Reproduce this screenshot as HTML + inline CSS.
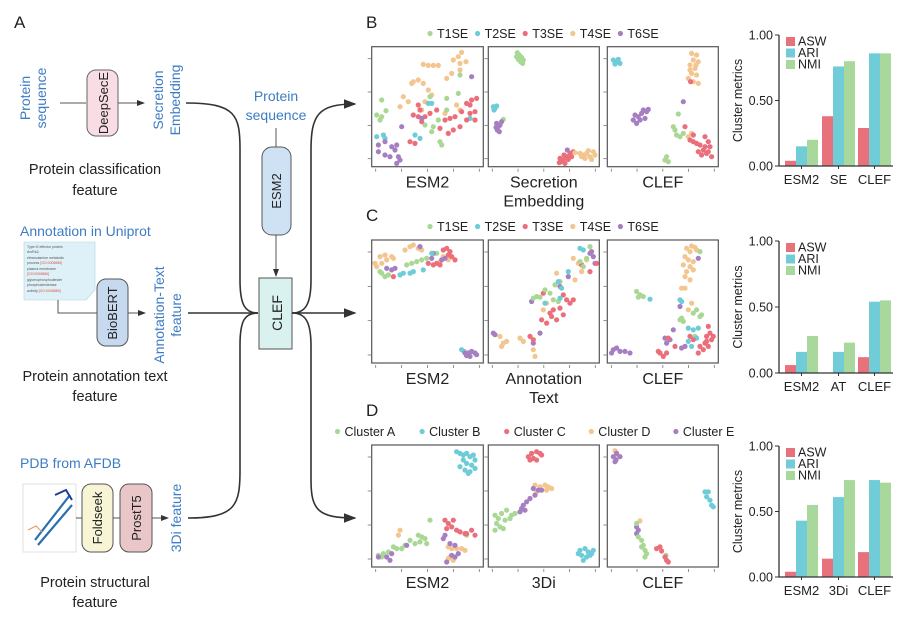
<!DOCTYPE html>
<html><head><meta charset="utf-8"><style>
html,body{margin:0;padding:0;background:#fff}
svg{display:block;font-family:"Liberation Sans",Arial,sans-serif}
</style></head><body>
<svg id="fig" width="910" height="621" viewBox="0 0 910 621" xmlns="http://www.w3.org/2000/svg">
<defs><marker id="ah" markerWidth="8" markerHeight="8" refX="7" refY="4" orient="auto"><path d="M0,1 L8,4 L0,7 Z" fill="#333"/></marker></defs>
<g fill="none" stroke="#333" stroke-width="1.6">
<text x="14" y="28" font-size="17" fill="#222" stroke="none">A</text>
<g stroke="none" fill="#3d7cc4" font-size="14">
<text transform="translate(30,98) rotate(-90)" text-anchor="middle">Protein</text>
<text transform="translate(46,98) rotate(-90)" text-anchor="middle">sequence</text></g>
<line x1="60" y1="103" x2="86" y2="103" stroke="#555" stroke-width="1"/>
<rect x="87" y="70" width="31" height="66" rx="9" fill="#f9dde4" stroke="#666" stroke-width="1"/>
<text transform="translate(108,103) rotate(-90)" text-anchor="middle" font-size="13" fill="#222" stroke="none">DeepSecE</text>
<line x1="118" y1="103" x2="144" y2="103" stroke="#555" stroke-width="1" marker-end="url(#ah)"/>
<g stroke="none" fill="#3d7cc4" font-size="14">
<text transform="translate(163,100) rotate(-90)" text-anchor="middle">Secretion</text>
<text transform="translate(180,100) rotate(-90)" text-anchor="middle">Embedding</text></g>
<text x="95" y="174" font-size="14.5" fill="#222" stroke="none" text-anchor="middle">Protein classification</text>
<text x="95" y="195" font-size="14.5" fill="#222" stroke="none" text-anchor="middle">feature</text>
<path d="M186,103 C236,103 240,115 240,150 L240,280 C240,305 245,313 258,313"/>
<path d="M188,518 C236,518 240,505 240,470 L240,345 C240,320 245,313 258,313"/>
<line x1="188" y1="313" x2="258" y2="313"/>
<text x="20" y="236" font-size="14" fill="#3d7cc4" stroke="none">Annotation in Uniprot</text>
<path d="M24,242 L95,242 L95,290 L86,300 L24,300 Z" fill="#dff1f8" stroke="#b5d3e2" stroke-width="0.6"/>
<g stroke="none" font-size="3.5" fill="#555"><text x="27" y="248">Type III effector protein</text><text x="27" y="253">AvrRs2;</text><text x="27" y="259">ethanolamine metabolic</text><text x="27" y="264">process <tspan fill="#e05040">[GO:0006580]</tspan></text><text x="27" y="270">plasma membrane</text><text x="27" y="275" fill="#e05040">[GO:0005886]</text><text x="27" y="281">glycerophosphodiester</text><text x="27" y="286">phosphodiesterase</text><text x="27" y="292">activity <tspan fill="#e05040">[GO:0008889]</tspan></text></g>
<path d="M58,300 L58,313 L97,313" stroke="#555" stroke-width="1"/>
<rect x="97" y="279" width="31" height="67" rx="9" fill="#c6d9ef" stroke="#555" stroke-width="1"/>
<text transform="translate(117,313) rotate(-90)" text-anchor="middle" font-size="13" fill="#222" stroke="none">BioBERT</text>
<line x1="128" y1="313" x2="145" y2="313" stroke="#555" stroke-width="1" marker-end="url(#ah)"/>
<g stroke="none" fill="#3d7cc4" font-size="14">
<text transform="translate(164,315) rotate(-90)" text-anchor="middle">Annotation-Text</text>
<text transform="translate(181,315) rotate(-90)" text-anchor="middle">feature</text></g>
<text x="95" y="381" font-size="14.5" fill="#222" stroke="none" text-anchor="middle">Protein annotation text</text>
<text x="95" y="401" font-size="14.5" fill="#222" stroke="none" text-anchor="middle">feature</text>
<text x="20" y="468" font-size="14" fill="#3d7cc4" stroke="none">PDB from AFDB</text>
<rect x="23" y="484" width="53" height="68" fill="#fff" stroke="#ccc" stroke-width="0.6"/>
<path d="M35,540 L70,495 M38,545 L72,505" stroke="#2a6fb0" stroke-width="2.2"/>
<path d="M55,495 L66,490 L72,500" stroke="#1a3f9a" stroke-width="2"/>
<path d="M28,530 L36,526 L42,532" stroke="#e0a070" stroke-width="1.2"/>
<line x1="76" y1="518" x2="82" y2="518" stroke="#555" stroke-width="1"/>
<rect x="82" y="484" width="31" height="68" rx="9" fill="#f7f5d6" stroke="#555" stroke-width="1"/>
<text transform="translate(102,518) rotate(-90)" text-anchor="middle" font-size="13" fill="#222" stroke="none">Foldseek</text>
<line x1="113" y1="518" x2="120" y2="518" stroke="#555" stroke-width="1"/>
<rect x="120" y="484" width="32" height="68" rx="9" fill="#e9c6c7" stroke="#555" stroke-width="1"/>
<text transform="translate(141,518) rotate(-90)" text-anchor="middle" font-size="13" fill="#222" stroke="none">ProstT5</text>
<line x1="152" y1="518" x2="168" y2="518" stroke="#555" stroke-width="1" marker-end="url(#ah)"/>
<text transform="translate(181,518) rotate(-90)" text-anchor="middle" font-size="14" fill="#3d7cc4" stroke="none">3Di feature</text>
<text x="95" y="587" font-size="14.5" fill="#222" stroke="none" text-anchor="middle">Protein structural</text>
<text x="95" y="607" font-size="14.5" fill="#222" stroke="none" text-anchor="middle">feature</text>
<text x="276" y="101" font-size="14" fill="#3d7cc4" stroke="none" text-anchor="middle">Protein</text>
<text x="276" y="120" font-size="14" fill="#3d7cc4" stroke="none" text-anchor="middle">sequence</text>
<line x1="276" y1="128" x2="276" y2="147" stroke="#555" stroke-width="1"/>
<rect x="262" y="147" width="29" height="88" rx="10" fill="#cfe2f3" stroke="#555" stroke-width="1"/>
<text transform="translate(281,191) rotate(-90)" text-anchor="middle" font-size="13" fill="#222" stroke="none">ESM2</text>
<line x1="276" y1="235" x2="276" y2="276" stroke="#555" stroke-width="1" marker-end="url(#ah)"/>
<rect x="259" y="278" width="33" height="71" fill="#d9f1ef" stroke="#555" stroke-width="1"/>
<text transform="translate(282,313) rotate(-90)" text-anchor="middle" font-size="14" fill="#222" stroke="none">CLEF</text>
<path d="M292,313 C305,313 311,305 311,280 L311,150 C311,115 318,104 355,104" marker-end="url(#ah)"/>
<line x1="292" y1="313" x2="355" y2="313" marker-end="url(#ah)"/>
<path d="M292,313 C305,313 311,321 311,346 L311,480 C311,510 318,518 355,518" marker-end="url(#ah)"/>
</g>
<g id="charts"></g>
</svg>
<script>
// ---- scatter data: [x, y, classIndex] in embedding units ----
const bEsm2 = [[305,97,3],[295,110,3],[318,125,3],[280,120,3],[300,130,3],[190,133,3],[205,136,3],[220,136,3],[235,136,3],[160,185,3],[175,180,3],[190,190,3],[155,190,3],[260,175,3],[275,160,3],[300,150,3],[205,210,3],[215,225,3],[195,245,3],[130,230,3],[120,260,3],[145,245,3],[290,255,3],[300,270,3],[255,280,3],[185,270,3],
[65,240,0],[50,285,0],[65,290,0],[78,272,0],[60,300,0],[210,230,0],[260,235,0],[295,220,0],[235,300,0],[220,320,0],[260,270,0],[240,365,0],[245,375,0],[300,165,0],[215,335,0],[195,315,0],
[50,350,1],[70,345,1],[165,345,1],[180,355,1],[205,250,1],[215,250,1],[330,295,1],[75,355,1],
[160,285,2],[175,290,2],[180,270,2],[195,290,2],[185,305,2],[150,365,2],[165,370,2],[230,270,2],[255,300,2],[270,295,2],[285,290,2],[305,275,2],[320,250,2],[335,240,2],[345,275,2],[330,280,2],[320,300,2],[300,320,2],[280,330,2],[265,340,2],[240,325,2],[345,300,2],[330,255,2],[350,235,2],[175,255,2],[210,280,2],
[55,375,4],[75,365,4],[95,380,4],[110,375,4],[105,390,4],[75,405,4],[90,410,4],[115,410,4],[120,420,4],[110,430,4],[55,395,4],[125,320,4],[335,170,4],[185,295,4]];
const bSecretion = [[472,98,0],[478,105,0],[485,112,0],[475,118,0],[482,125,0],[490,120,0],[470,110,0],[488,130,0],[430,298,0],
[400,260,1],[405,265,1],[410,258,1],[402,270,1],
[410,310,4],[415,320,4],[412,330,4],[420,315,4],[418,335,4],[425,305,4],[408,322,4],[622,390,4],
[600,415,2],[610,420,2],[620,410,2],[630,400,2],[605,425,2],[615,430,2],[625,418,2],[640,395,2],[612,405,2],[635,410,2],[598,428,2],
[670,405,3],[680,400,3],[690,410,3],[700,395,3],[675,415,3],[695,418,3],[685,392,3],[665,410,3],[705,405,3],[660,400,3],[645,398,3]];
const bClef = [[760,120,1],[770,125,1],[780,130,1],[765,132,1],[775,118,1],
[995,100,3],[1010,105,3],[1000,120,3],[1015,125,3],[990,135,3],[1005,145,3],[995,160,3],[1010,165,3],[985,175,3],[1000,185,3],[1015,190,3],[990,150,3],[1008,135,3],[995,340,3],[985,350,3],
[992,185,2],
[970,245,4],[825,285,4],[835,290,4],[850,270,4],[860,275,4],[840,300,4],[820,300,4],[830,310,4],[845,280,4],[865,268,4],[855,295,4],
[955,282,0],[940,320,0],[945,330,0],[960,350,0],[950,345,0],[970,340,0],[920,410,0],[925,425,0],[915,420,0],
[975,320,2],[990,360,2],[1000,365,2],[1010,370,2],[1020,375,2],[1035,350,2],[1045,365,2],[1050,380,2],[1030,390,2],[1040,400,2],[1015,395,2],[1025,405,2],[1055,410,2],[1045,395,2],[1000,345,2],[1035,380,2]];
const cEsm2 = [[50,170,3],[65,160,3],[80,150,3],[95,140,3],[60,140,3],[75,135,3],[100,145,3],[135,120,3],[150,110,3],[160,105,3],[175,115,3],[185,120,3],[250,140,3],[265,150,3],[240,155,3],[45,160,3],
[65,190,0],[75,200,0],[85,195,0],[140,165,0],[155,160,0],[170,155,0],[185,150,0],[200,145,0],[230,130,0],[60,185,0],
[80,175,4],[95,180,4],[105,175,4],[180,110,4],[215,145,4],[245,150,4],[255,145,4],[220,130,4],
[120,195,1],[130,190,1],[150,190,1],[160,185,1],[190,180,1],[215,130,1],[305,420,1],[312,425,1],
[205,160,2],[220,165,2],[230,160,2],[250,120,2],[260,115,2],[270,125,2],[275,140,2],[285,150,2],[265,135,2],[240,165,2],[100,200,2],
[315,430,4],[325,430,4],[335,425,4],[345,430,4],[330,440,4],[350,435,4],[320,438,4]];
const cAnnotation = [[400,370,4],[405,375,4],[695,125,4],[700,140,4],[705,160,4],[690,130,4],[515,275,4],[540,370,4],[625,200,4],[520,400,4],[600,230,4],
[420,380,3],[430,400,3],[440,395,3],[425,410,3],[480,385,3],[490,395,3],[520,420,3],[525,440,3],[550,300,3],[560,280,3],[590,190,3],[640,145,3],[655,160,3],[645,210,3],[680,150,3],[665,185,3],
[510,380,2],[520,390,2],[570,310,2],[575,320,2],[580,300,2],[590,330,2],[600,295,2],[610,315,2],[560,340,2],[545,330,2],[620,270,2],[630,280,2],[640,270,2],[610,255,2],[665,165,2],[690,185,2],[710,160,2],[550,250,2],
[520,265,0],[530,260,0],[540,262,0],[555,240,0],[570,250,0],[585,225,0],[600,215,0],[580,270,0],[595,275,0],[660,155,0],[670,170,0],[680,145,0],[690,110,0],
[595,215,1],[605,235,1],[625,185,1],[600,265,1],[660,115,1],[670,120,1],[555,280,1]];
const cClef = [[980,115,3],[995,108,3],[1005,112,3],[1010,120,3],[990,125,3],[975,140,3],[985,150,3],[1000,155,3],[970,165,3],[990,170,3],[1000,180,3],[980,185,3],[975,200,3],[990,210,3],[965,235,3],[975,235,3],[995,280,3],[985,300,3],
[1020,125,0],[830,245,0],[840,255,0],[850,260,0],[835,262,0],[965,325,0],[970,335,0],[960,330,0],[1000,310,0],[1010,300,0],[1020,320,0],[1005,380,0],[1025,315,0],
[1015,145,4],[960,290,4],[940,360,4],[915,385,4],[930,390,4],[920,400,4],[965,415,4],[975,410,4],[760,420,4],[770,415,4],[780,425,4],[795,425,4],[810,430,4],[755,430,4],
[960,270,1],[965,275,1],[870,268,1],[985,355,1],[1000,360,1],[1015,355,1],[985,395,1],[995,410,1],[1010,385,1],
[1045,350,2],[1050,370,2],[1040,380,2],[1055,390,2],[1035,400,2],[1045,410,2],[1020,410,2],[1030,420,2],[1015,430,2],[1000,390,2],[945,410,2],[925,385,2],[900,430,2],[910,440,2],[920,430,2],[895,425,2],[1060,380,2],[1040,395,2],[990,380,2]];
const dEsm2 = [[290,95,1],[300,100,1],[310,105,1],[320,100,1],[330,110,1],[340,105,1],[345,120,1],[310,120,1],[320,130,1],[335,135,1],[300,140,1],[315,150,1],[330,155,1],[345,145,1],[325,160,1],
[210,300,0],[175,345,0],[185,350,0],[195,355,0],[200,370,0],[180,365,0],[165,370,0],[150,360,0],[135,375,0],[125,385,0],[110,385,0],[100,380,0],[85,395,0],[70,400,0],[55,405,0],[65,410,0],[320,345,0],
[120,330,3],[115,345,3],[265,380,3],[275,385,3],[290,385,3],[305,385,3],[315,390,3],[270,410,3],[280,420,3],[265,415,3],
[140,375,4],[95,400,4],[80,410,4],[90,420,4],[55,410,4],[250,355,4],[255,345,4],[270,370,4],[285,375,4],[295,400,4],[285,410,4],[260,425,4],[275,405,4],
[255,300,2],[265,310,2],[280,300,2],[260,325,2],[275,320,2],[290,330,2],[300,335,2],[320,340,2],[335,330,2],[345,345,2],[315,340,2]];
const d3di = [[505,110,2],[515,100,2],[530,95,2],[540,100,2],[545,105,2],[520,115,2],[510,120,2],[530,120,2],
[525,195,3],[540,200,3],[555,195,3],[565,200,3],[575,205,3],[530,215,3],[560,210,3],
[520,205,4],[535,210,4],[525,225,4],[510,235,4],[500,245,4],[490,255,4],[485,265,4],[480,275,4],[495,270,4],[545,210,4],
[440,270,0],[425,280,0],[405,285,0],[415,295,0],[435,300,0],[410,310,0],[420,320,0],[405,330,0],[430,325,0],[455,285,0],[465,280,0],[450,295,0],
[660,390,1],[675,385,1],[685,395,1],[695,400,1],[665,405,1],[680,410,1],[670,420,1],[700,390,1],[655,400,1],[690,405,1]];
const dClef = [[765,92,3],[775,108,3],[840,302,3],
[760,110,4],[768,120,4],[780,110,4],[765,125,4],[770,100,4],[830,320,4],[835,330,4],[830,340,4],
[1035,215,1],[1045,215,1],[1040,230,1],[1050,240,1],[1055,255,1],[1060,260,1],
[830,310,0],[835,350,0],[845,360,0],[850,375,0],[855,390,0],[860,400,0],[855,410,0],[845,380,0],[918,405,0],
[890,385,2],[900,380,2],[905,392,2],[915,410,2],[920,420,2],[925,425,2]];
const typeLegend = ["T1SE","T2SE","T3SE","T4SE","T6SE"];
const clusterLegend = ["Cluster A","Cluster B","Cluster C","Cluster D","Cluster E"];
// ---- bar data ----
const barCategoriesB = ["ESM2","SE","CLEF"];
const barCategoriesC = ["ESM2","AT","CLEF"];
const barCategoriesD = ["ESM2","3Di","CLEF"];
const metrics = ["ASW","ARI","NMI"];
const aswB = [0.04,0.38,0.29], ariB = [0.15,0.76,0.86], nmiB = [0.20,0.80,0.86];
const aswC = [0.06,0.00,0.12], ariC = [0.16,0.16,0.54], nmiC = [0.28,0.23,0.55];
const aswD = [0.04,0.14,0.19], ariD = [0.43,0.61,0.74], nmiD = [0.55,0.74,0.72];
const yTicks = [0, 0.5, 1];
const yTickLabels = ["0.00","0.50","1.00"];

const COLORS = ["#a9d895","#6dccd8","#ea6f7b","#f3c58f","#a67fc2"];
const BAR_COLORS = ["#e8727c","#70ccd6","#a8d89b"];
const NS = "http://www.w3.org/2000/svg";
const root = document.getElementById("charts");
function mk(tag, attrs, parent, txt){const e=document.createElementNS(NS,tag);for(const k in attrs)e.setAttribute(k,attrs[k]);if(txt!==undefined)e.textContent=txt;(parent||root).appendChild(e);return e;}

const rows = [
 {label:"B", ly:28, legY:38, top:46.7, bot:166.7, yDom:[80,440], legend:typeLegend,
  panels:[{name:"esm2",data:bEsm2,xDom:[35,370],l:371.7,r:483.3,t:["ESM2"]},{name:"secretion",data:bSecretion,xDom:[385,718],l:488.3,r:599.3,t:["Secretion","Embedding"]},{name:"clef",data:bClef,xDom:[742,1075],l:607.3,r:718.3,t:["CLEF"]}]},
 {label:"C", ly:221, legY:231, top:240, bot:363, yDom:[90,460], legend:typeLegend,
  panels:[{name:"esm2",data:cEsm2,xDom:[35,370],l:371.7,r:483.3,t:["ESM2"]},{name:"annotation",data:cAnnotation,xDom:[385,718],l:488.3,r:599.3,t:["Annotation","Text"]},{name:"clef",data:cClef,xDom:[742,1075],l:607.3,r:718.3,t:["CLEF"]}]},
 {label:"D", ly:416, legY:436, top:445, bot:567, yDom:[75,440], legend:clusterLegend,
  panels:[{name:"esm2",data:dEsm2,xDom:[35,370],l:371.7,r:483.3,t:["ESM2"]},{name:"3di",data:d3di,xDom:[385,718],l:488.3,r:599.3,t:["3Di"]},{name:"clef",data:dClef,xDom:[742,1075],l:607.3,r:718.3,t:["CLEF"]}]}
];

rows.forEach((row, ri) => {
  const lab = mk("text",{x:366,y:row.ly,"font-size":17,fill:"#222"},root,row.label);
  
  
  const lg = mk("g",{});
  
  
  const widths = row.legend.map(s => s.length*7.4 + 18);
  const total = widths.reduce((a,b)=>a+b,0);
  let lx = 545 - total/2;
  row.legend.forEach((s, i) => {
    const e = mk("g",{},lg);
    
    
    mk("circle",{cx:lx+4,cy:row.legY-4.5,r:2.6,fill:COLORS[i]},e);
    mk("text",{x:lx+11,y:row.legY,"font-size":12.5,fill:"#222"},e,s);
    lx += widths[i];
  });
  row.panels.forEach(p => {
    const g = mk("g",{});
    
    
    const sx = v => p.l + (v - p.xDom[0])/(p.xDom[1]-p.xDom[0])*(p.r-p.l);
    const sy = v => row.top + (v - row.yDom[0])/(row.yDom[1]-row.yDom[0])*(row.bot-row.top);
    p.data.forEach(d => {
      const c = mk("circle",{cx:sx(d[0]).toFixed(1),cy:sy(d[1]).toFixed(1),r:2.6,fill:COLORS[d[2]]},g);
      
      
    });
    const fr = mk("rect",{x:p.l,y:row.top,width:p.r-p.l,height:row.bot-row.top,fill:"none",stroke:"#555","stroke-width":1.2},g);
    
    
    for (let k=0;k<4;k++){ const yy=row.top+12+k*(row.bot-row.top-20)/3; mk("line",{x1:p.l-4,x2:p.l,y1:yy,y2:yy,stroke:"#777","stroke-width":0.8},g); }
    for (let k=0;k<5;k++){ const xx=p.l+4+k*(p.r-p.l-8)/4; mk("line",{x1:xx,x2:xx,y1:row.bot+2,y2:row.bot+5,stroke:"#777","stroke-width":0.8},g); }
    p.t.forEach((s, i) => {
      const t = mk("text",{x:(p.l+p.r)/2,y:row.bot+21+i*19,"font-size":16,fill:"#222","text-anchor":"middle"},g,s);
      
      
    });
  });
});

const bars = [
 {id:"b", cats:barCategoriesB, vals:[aswB,ariB,nmiB], y1:35, y0:166},
 {id:"c", cats:barCategoriesC, vals:[aswC,ariC,nmiC], y1:241, y0:373},
 {id:"d", cats:barCategoriesD, vals:[aswD,ariD,nmiD], y1:446, y0:577}
];
const axX = 779, groupX = [785, 822, 858], bw = 11;
bars.forEach(b => {
  const g = mk("g",{});
  
  
  const yS = v => b.y0 - v*(b.y0-b.y1);
  b.cats.forEach((c, ci) => {
    b.vals.forEach((series, mi) => {
      const v = series[ci];
      const r = mk("rect",{x:groupX[ci]+mi*bw,y:yS(v),width:bw,height:Math.max(0,b.y0-yS(v)),fill:BAR_COLORS[mi]},g);
      
      
    });
    const t = mk("text",{x:groupX[ci]+1.5*bw,y:b.y0+18,"font-size":13,fill:"#222","text-anchor":"middle"},g,c);
    
    
    mk("line",{x1:groupX[ci]+1.5*bw,x2:groupX[ci]+1.5*bw,y1:b.y0,y2:b.y0+3,stroke:"#333","stroke-width":1},g);
  });
  mk("line",{x1:axX,x2:axX,y1:b.y1,y2:b.y0,stroke:"#333","stroke-width":1.3},g);
  mk("line",{x1:axX,x2:893,y1:b.y0,y2:b.y0,stroke:"#333","stroke-width":1.3},g);
  yTicks.forEach((v, i) => {
    mk("line",{x1:axX-4,x2:axX,y1:yS(v),y2:yS(v),stroke:"#333","stroke-width":1},g);
    const t = mk("text",{x:axX-6,y:yS(v)+4.5,"font-size":12.5,fill:"#222","text-anchor":"end"},g,yTickLabels[i]);
    
    
  });
  const yt = mk("text",{transform:`translate(742,${(b.y0+b.y1)/2}) rotate(-90)`,"font-size":12.5,fill:"#222","text-anchor":"middle"},g,"Cluster metrics");
  
  
  metrics.forEach((m, mi) => {
    const e = mk("g",{},g);
    
    
    mk("rect",{x:786,y:b.y1+2+mi*11.5,width:9,height:9,fill:BAR_COLORS[mi]},e);
    mk("text",{x:798,y:b.y1+10.5+mi*11.5,"font-size":12.5,fill:"#222"},e,m);
  });
});
</script>
</body></html>
